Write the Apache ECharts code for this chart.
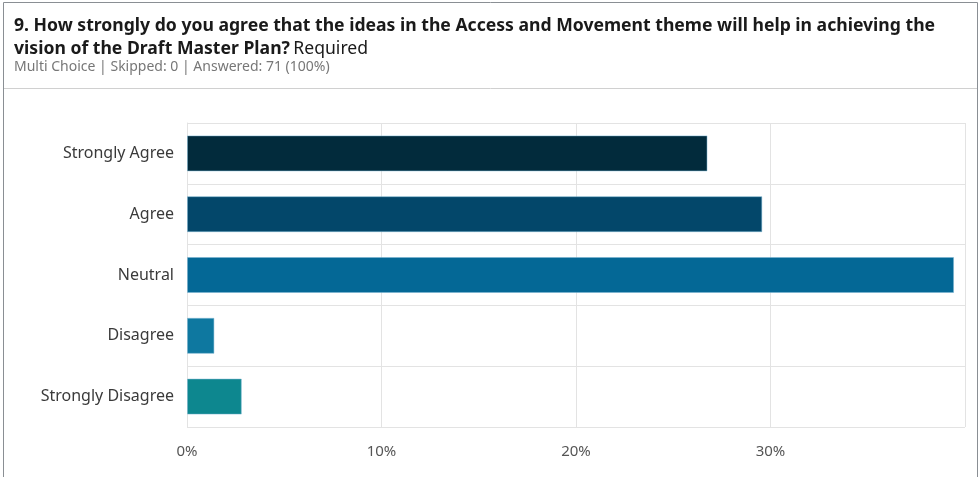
<!DOCTYPE html>
<html>
<head>
<meta charset="utf-8">
<script src="https://cdn.jsdelivr.net/npm/echarts@6/dist/echarts.min.js"></script>
<style>
  html, body { margin: 0; padding: 0; background: #fff; }
  #chart { width: 979px; height: 477px; }
</style>
</head>
<body>
<div id="chart"></div>
<script>
// Survey question 9 response breakdown
const categories = ['Strongly Agree', 'Agree', 'Neutral', 'Disagree', 'Strongly Disagree'];
const counts = [19, 21, 28, 1, 2];
const answered = 71;
const percents = counts.map(c => c / answered * 100);
const tickValues = [0, 10, 20, 30, 40];

const barColors = ['#022b3c', '#03476a', '#046896', '#0e78a0', '#0d878f'];

const chart = echarts.init(document.getElementById('chart'), null, { renderer: 'canvas' });

chart.setOption({
  animation: false,
  backgroundColor: '#ffffff',
  grid: { left: 187, right: 14, top: 123, bottom: 50, containLabel: false },
  xAxis: {
    type: 'value',
    min: tickValues[0],
    max: tickValues[tickValues.length - 1],
    interval: 10,
    axisLine: { show: false },
    axisTick: { show: false },
    splitLine: { show: true, lineStyle: { color: '#e3e3e3', width: 1 } },
    axisLabel: {
      showMaxLabel: false,
      formatter: v => v + '%',
      color: '#555555',
      fontFamily: 'Noto Sans',
      fontSize: 15,
      margin: 17
    }
  },
  yAxis: {
    type: 'category',
    inverse: true,
    data: categories,
    axisLine: { show: true, lineStyle: { color: '#e3e3e3' } },
    axisTick: { show: false },
    splitLine: { show: true, lineStyle: { color: '#e3e3e3', width: 1 } },
    axisLabel: {
      color: '#3a3a3a',
      fontFamily: 'Noto Sans',
      fontSize: 16,
      margin: 13
    }
  },
  series: [{
    type: 'bar',
    barWidth: 36,
    data: percents.map((v, i) => ({
      value: v,
      itemStyle: { color: barColors[i], borderColor: 'rgba(120,180,210,0.5)', borderWidth: 1 }
    }))
  }],
  graphic: [
    // outer frame and header divider
    { type: 'rect', silent: true, shape: { x: 3.5, y: 2.5, width: 974, height: 490 },
      style: { fill: 'none', stroke: '#8a8f94', lineWidth: 1 } },
    { type: 'line', silent: true, shape: { x1: 4, y1: 88.5, x2: 977, y2: 88.5 },
      style: { stroke: '#d0d0d0', lineWidth: 1 } },
    { type: 'text', left: 14, top: 17, silent: true,
      style: {
        text: '{b|9. How strongly do you agree that the ideas in the Access and Movement theme will help in achieving the}\n{b|vision of the Draft Master Plan?} {n|Required}',
        rich: {
          b: { fontFamily: 'Noto Sans', fontWeight: 'bold', fontSize: 17.6, fill: '#1a1a1a', lineHeight: 23 },
          n: { fontFamily: 'Noto Sans', fontWeight: 'normal', fontSize: 17.6, fill: '#1a1a1a', lineHeight: 23 }
        }
      } },
    { type: 'text', left: 14, top: 60, silent: true,
      style: { text: 'Multi Choice | Skipped: 0 | Answered: 71 (100%)',
        fontFamily: 'Noto Sans', fontSize: 14, fill: '#777777' } }
  ]
});
</script>
</body>
</html>
